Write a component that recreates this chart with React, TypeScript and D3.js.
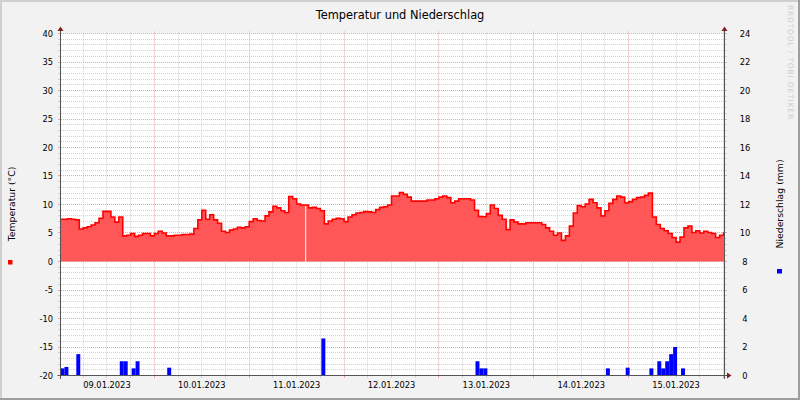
import React from "react";
import * as d3 from "d3";

const W = 800;
const H = 400;
const FONT = "DejaVu Sans";

const chartTitle = "Temperatur und Niederschlag";
const leftAxisTitle = "Temperatur (°C)";
const rightAxisTitle = "Niederschlag (mm)";
const watermark = "RRDTOOL / TOBI OETIKER";

const viewStart = new Date(2023, 0, 9, 0, 15);
const viewEnd = new Date(2023, 0, 16, 0, 15);

// hourly temperature (°C), starting 09.01.2023 00:00
const tempStart = new Date(2023, 0, 9, 0, 0);
const temperature = [
  7.4, 7.4, 7.5, 7.4, 7.3, 5.7, 5.9, 6.1, 6.4, 6.8, 7.6, 8.8, 8.8, 7.8, 6.9, 7.8,
  4.5, 4.6, 4.9, 4.4, 4.6, 4.9, 4.9, 4.5,
  4.9, 5.3, 5.0, 4.5, 4.5, 4.6, 4.6, 4.75, 4.75, 4.8, 5.8, 7.3, 9.0, 7.4, 8.2, 7.3,
  6.7, 5.3, 5.1, 5.5, 5.7, 6.0, 5.9, 6.1,
  7.0, 7.5, 7.2, 7.1, 8.0, 8.7, 9.7, 9.4, 8.9, 8.6, 11.4, 11.0, 10.1, 9.9, 9.9, 9.4,
  9.5, 9.3, 8.9, 6.6, 7.1, 7.4, 7.6, 7.5,
  7.0, 7.8, 8.2, 8.5, 8.6, 8.75, 8.7, 8.6, 9.1, 9.5, 9.6, 9.9, 11.5, 11.5, 12.1, 11.8,
  11.3, 10.6, 10.6, 10.6, 10.6, 10.8, 10.8, 11.0,
  11.3, 11.5, 11.2, 10.3, 10.6, 11.0, 11.0, 11.0, 10.8, 9.0, 7.9, 7.85, 8.4, 9.9, 9.3, 8.1,
  7.4, 5.6, 7.3, 6.9, 6.6, 6.6, 6.8, 6.8,
  6.8, 6.8, 6.5, 5.9, 5.3, 4.6, 5.0, 3.7, 4.5, 6.2, 8.5, 9.8, 9.6, 10.1, 10.9, 10.3,
  9.4, 8.0, 8.9, 10.2, 10.9, 11.5, 11.3, 10.3,
  10.5, 10.9, 11.2, 11.3, 11.6, 12.0, 7.8, 6.5, 5.8, 5.4, 4.9, 4.2, 3.4, 4.3, 5.9, 6.2,
  5.1, 5.4, 5.0, 5.3, 5.1, 4.9, 4.2, 4.6,
  5.0,
];
// missing temperature samples (start time, minutes)
const tempGaps = ["2023-01-11T14:10"];
const tempGapMinutes = 15;

// hourly precipitation sums (mm), interval start times
const precipTimes = [
  "2023-01-09T00:15", "2023-01-09T01:15", "2023-01-09T04:15", "2023-01-09T15:15",
  "2023-01-09T16:15", "2023-01-09T18:15", "2023-01-09T19:15", "2023-01-10T03:15",
  "2023-01-11T18:15", "2023-01-13T09:15", "2023-01-13T10:15", "2023-01-13T11:15",
  "2023-01-14T18:15", "2023-01-14T23:15", "2023-01-15T05:15", "2023-01-15T07:15",
  "2023-01-15T08:15", "2023-01-15T09:15", "2023-01-15T10:15", "2023-01-15T11:15",
  "2023-01-15T13:15",
];
const precipValues = [
  0.5, 0.6, 1.5, 1.0, 1.0, 0.5, 1.0, 0.55, 2.6, 1.0, 0.5, 0.5, 0.5, 0.55, 0.5, 1.0,
  0.5, 1.0, 1.5, 2.0, 0.5,
];

const leftTicks = [40, 35, 30, 25, 20, 15, 10, 5, 0, -5, -10, -15, -20];
const rightTicks = [24, 22, 20, 18, 16, 14, 12, 10, 8, 6, 4, 2, 0];

const X0 = 60.5, X1 = 724.5, Y0 = 375.5, Y1 = 33.5;

export default function App() {
  const x = d3.scaleTime().domain([viewStart, viewEnd]).range([X0, X1]);
  const y = d3.scaleLinear().domain([-20, 40]).range([Y0, Y1]);
  const yR = d3.scaleLinear().domain([0, 24]).range([Y0, Y1]);

  const pts: [Date, number][] = temperature.map((v, i) => [d3.timeHour.offset(tempStart, i), v]);
  pts.push([d3.timeHour.offset(tempStart, temperature.length), temperature[temperature.length - 1]]);

  const area = d3
    .area<[Date, number]>()
    .x((d) => x(d[0]))
    .y0(y(0))
    .y1((d) => y(d[1]))
    .curve(d3.curveStepAfter);
  const line = d3
    .line<[Date, number]>()
    .x((d) => x(d[0]))
    .y((d) => y(d[1]))
    .curve(d3.curveStepAfter);

  const parse = (s: string) => new Date(s);

  const minorY = d3.range(-20, 41, 1);
  const vTicks = x.ticks(d3.timeHour.every(6)!);
  const dayLabels = d3.timeDay
    .range(d3.timeDay.floor(viewStart), viewEnd)
    .map((d) => d3.timeHour.offset(d, 12))
    .filter((d) => d >= viewStart && d <= viewEnd);
  const fmt = d3.timeFormat("%d.%m.%Y");

  const minorCol = "#d2d2d2";
  const majorCol = "#eaa6a6";
  const px = (v: number) => Math.floor(v) + 0.5;

  const tempAt = (t: Date) => {
    const i = Math.floor((t.getTime() - tempStart.getTime()) / 3600000);
    return temperature[Math.max(0, Math.min(temperature.length - 1, i))];
  };

  return (
    <div style={{ position: "fixed", left: 0, top: 0 }}>
      <svg width={W} height={H} style={{ display: "block" }}>
        <defs>
          <clipPath id="plot">
            <rect x={X0 + 0.5} y={Y1 - 0.5} width={X1 - X0 - 1} height={Y0 - Y1} />
          </clipPath>
        </defs>
        <rect x={0} y={0} width={W} height={H} fill="#f2f2f2" />
        <rect x={0} y={0} width={W} height={2} fill="#cfcfcf" />
        <rect x={0} y={0} width={2} height={H} fill="#cfcfcf" />
        <rect x={0} y={H - 2} width={W} height={2} fill="#9e9e9e" />
        <rect x={W - 2} y={0} width={2} height={H} fill="#9e9e9e" />
        <rect x={X0} y={Y1 - 0.5} width={X1 - X0} height={Y0 - Y1 + 0.5} fill="#ffffff" />

        {/* horizontal grid */}
        {minorY.map((v) => {
          const yy = px(y(v));
          const major = v % 5 === 0;
          const col = major ? majorCol : minorCol;
          return (
            <g key={"h" + v}>
              <line x1={X0 + 0.5} x2={X1 - 0.5} y1={yy} y2={yy} stroke={col} strokeDasharray="1,1" />
              <line x1={X0 - 2.5} x2={X0} y1={yy} y2={yy} stroke={col} />
              <line x1={X1} x2={X1 + 2.5} y1={yy} y2={yy} stroke={col} />
            </g>
          );
        })}
        {/* vertical grid */}
        {vTicks.map((t) => {
          const xx = px(x(t));
          const major = t.getHours() === 0;
          const col = major ? majorCol : minorCol;
          return (
            <g key={"v" + t.getTime()}>
              <line x1={xx} x2={xx} y1={Y1 - 2} y2={Y0} stroke={col} strokeDasharray="1,1" />
              <line x1={xx} x2={xx} y1={Y0} y2={Y0 + 2.5} stroke={col} />
            </g>
          );
        })}

        {/* temperature */}
        <g clipPath="url(#plot)">
          <path d={area(pts) || ""} fill="#ff5757" />
          {tempGaps.map((g) => {
            const t0 = parse(g);
            const t1 = d3.timeMinute.offset(t0, tempGapMinutes);
            const v = tempAt(t0);
            return (
              <rect
                key={g}
                x={x(t0)}
                width={Math.max(1, x(t1) - x(t0))}
                y={y(v) + 1}
                height={y(0) - y(v) - 1}
                fill="#ffffff"
              />
            );
          })}
          <path d={line(pts) || ""} fill="none" stroke="#ff0000" strokeWidth={1.6} />
          {/* precipitation */}
          {precipTimes.map((s, i) => {
            const t0 = parse(s);
            const t1 = d3.timeHour.offset(t0, 1);
            return (
              <rect
                key={s}
                x={x(t0)}
                width={x(t1) - x(t0)}
                y={yR(precipValues[i])}
                height={yR(0) - yR(precipValues[i])}
                fill="#0000ff"
              />
            );
          })}
        </g>

        {/* axes */}
        <line x1={X0} x2={X0} y1={Y1 - 3} y2={Y0 + 3.5} stroke="#555" />
        <line x1={X1} x2={X1} y1={Y1 - 3} y2={Y0 + 3.5} stroke="#555" />
        <line x1={X0 - 3} x2={X1 + 3} y1={Y0} y2={Y0} stroke="#555" />
        <path d={`M${X0 - 3},${Y1 - 2.5} L${X0 + 3},${Y1 - 2.5} L${X0},${Y1 - 7} Z`} fill="#801f1f" />
        <path d={`M${X1 - 3},${Y1 - 2.5} L${X1 + 3},${Y1 - 2.5} L${X1},${Y1 - 7} Z`} fill="#801f1f" />
        <path d={`M${X1 + 2.5},${Y0 - 3} L${X1 + 2.5},${Y0 + 3} L${X1 + 7},${Y0} Z`} fill="#801f1f" />

        {/* tick labels */}
        <g fontFamily={FONT} fontSize={8.3} fill="#000">
          {leftTicks.map((v) => (
            <text key={"l" + v} x={53} y={y(v)} textAnchor="end" dominantBaseline="central">
              {v}
            </text>
          ))}
          {rightTicks.map((v) => (
            <text key={"r" + v} x={745} y={yR(v)} textAnchor="middle" dominantBaseline="central">
              {v}
            </text>
          ))}
          {dayLabels.map((d) => (
            <text key={"d" + d.getTime()} x={x(d)} y={388} textAnchor="middle">
              {fmt(d)}
            </text>
          ))}
        </g>

        {/* titles */}
        <text x={400} y={19} textAnchor="middle" fontFamily={FONT} fontSize={11.4} fill="#000">
          {chartTitle}
        </text>
        <text
          transform={`translate(14.5,204) rotate(-90)`}
          textAnchor="middle"
          fontFamily={FONT}
          fontSize={9.3}
          fill="#000"
        >
          {leftAxisTitle}
        </text>
        <text
          transform={`translate(782.5,204) rotate(-90)`}
          textAnchor="middle"
          fontFamily={FONT}
          fontSize={9.3}
          fill="#000"
        >
          {rightAxisTitle}
        </text>
        <rect x={8} y={260} width={4.5} height={4.5} fill="#ff0000" />
        <rect x={777} y={269} width={5} height={4.5} fill="#0000ff" />

        <text
          transform={`translate(788,5) rotate(90)`}
          fontFamily={FONT}
          fontSize={7.4}
          letterSpacing={0.9}
          fill="#cccccc"
        >
          {watermark}
        </text>
      </svg>
    </div>
  );
}
